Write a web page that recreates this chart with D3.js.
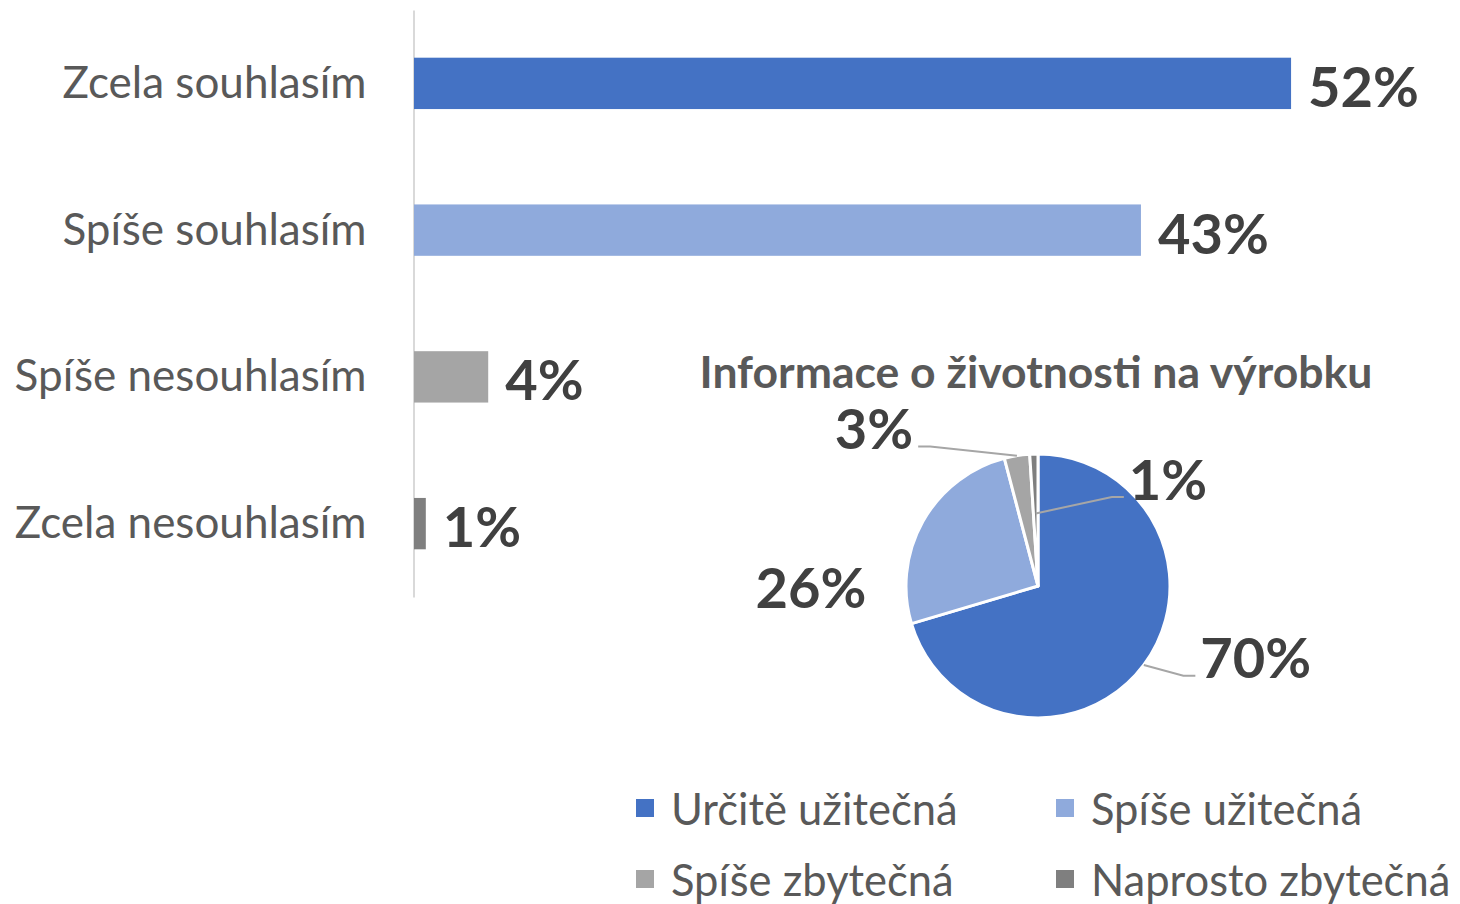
<!DOCTYPE html>
<html>
<head>
<meta charset="utf-8">
<script src="https://cdn.jsdelivr.net/npm/d3@7"></script>
<style>
  html, body { margin: 0; padding: 0; background: #fff; }
  svg { display: block; font-family: Lato, "Open Sans", sans-serif; }
</style>
</head>
<body>
<svg id="chart" width="1460" height="904"></svg>
<script>
// ---------- DATA ----------
const barCategories = ["Zcela souhlasím", "Spíše souhlasím", "Spíše nesouhlasím", "Zcela nesouhlasím"];
const barValues = [0.520, 0.431, 0.044, 0.007];
const barColors = ["#4472C4", "#8FAADC", "#A5A5A5", "#7F7F7F"];

const pieTitle = "Informace o životnosti na výrobku";
const pieCategories = ["Určitě užitečná", "Spíše užitečná", "Spíše zbytečná", "Naprosto zbytečná"];
const pieValues = [0.704, 0.255, 0.031, 0.010];
const pieColors = ["#4472C4", "#8FAADC", "#A5A5A5", "#7F7F7F"];

// ---------- SETUP ----------
const svg = d3.select("#chart");
const fmt = d3.format(".0%");
const labelColor = "#404040";
const textColor = "#595959";

// ---------- BAR CHART ----------
const y = d3.scaleBand()
  .domain(barCategories)
  .range([10, 597])
  .paddingInner(0.65)
  .paddingOuter(0.325);

const x = d3.scaleLinear().domain([0, 0.6]).range([414, 1426]);

const yAxis = d3.axisLeft(y).tickSize(0).tickSizeOuter(0).tickPadding(47);
const gAxis = svg.append("g")
  .attr("transform", `translate(${x(0) - 0.5},0)`)
  .call(yAxis);
gAxis.select(".domain").attr("stroke", "#D9D9D9").attr("stroke-width", 2);
gAxis.selectAll(".tick text")
  .attr("fill", textColor)
  .style("font-family", "Lato, sans-serif")
  .style("font-size", "44px")
  .attr("dy", "0.33em");

const barData = barCategories.map((c, i) => ({ c, v: barValues[i], color: barColors[i] }));

svg.append("g").selectAll("rect")
  .data(barData)
  .join("rect")
  .attr("x", x(0))
  .attr("y", d => y(d.c))
  .attr("width", d => x(d.v) - x(0))
  .attr("height", y.bandwidth())
  .attr("fill", d => d.color);

svg.append("g").selectAll("text")
  .data(barData)
  .join("text")
  .attr("x", d => x(d.v) + 17)
  .attr("y", d => y(d.c) + y.bandwidth() / 2 + 2)
  .attr("dominant-baseline", "central")
  .attr("fill", labelColor)
  .style("font-weight", 700)
  .style("font-size", "56px")
  .text(d => fmt(d.v));

// ---------- PIE CHART ----------
const cx = 1038, cy = 586, R = 132;
const pieData = pieCategories.map((c, i) => ({ c, v: pieValues[i], color: pieColors[i] }));
const pie = d3.pie().value(d => d.v).sort(null);
const arcs = pie(pieData);
const arc = d3.arc().innerRadius(0).outerRadius(R);

svg.append("text")
  .attr("x", cx - 2)
  .attr("y", 388)
  .attr("text-anchor", "middle")
  .attr("fill", textColor)
  .style("font-weight", 700)
  .style("font-size", "44.5px")
  .text(pieTitle);

const gPie = svg.append("g").attr("transform", `translate(${cx},${cy})`);
gPie.selectAll("path")
  .data(arcs)
  .join("path")
  .attr("d", arc)
  .attr("fill", d => d.data.color)
  .attr("stroke", "#fff")
  .attr("stroke-width", 3)
  .attr("stroke-linejoin", "round");

// label layout (polar: angle in degrees clockwise from top, radius), leader anchor radius factor
const labelLayout = [
  { ang: 108, rad: 229, lead: true, anchorR: 1.0 },
  { ang: 270, rad: 227, lead: false, anchorR: 1.0 },
  { ang: 314, rad: 228, lead: true, anchorR: 1.0 },
  { ang: 50.3, rad: 169, lead: true, anchorR: 0.55 }
];
const polar = (deg, r) => {
  const a = deg * Math.PI / 180;
  return [Math.sin(a) * r, -Math.cos(a) * r];
};

arcs.forEach((d, i) => {
  const L = labelLayout[i];
  const [lx, ly] = polar(L.ang, L.rad);
  const t = gPie.append("text")
    .attr("x", lx)
    .attr("y", ly)
    .attr("text-anchor", "middle")
    .attr("dominant-baseline", "central")
    .attr("fill", labelColor)
    .style("font-weight", 700)
    .style("font-size", "56px")
    .text(fmt(d.data.v));
  if (L.lead) {
    const bb = t.node().getBBox();
    const mid = (d.startAngle + d.endAngle) / 2;
    const start = [Math.sin(mid) * R * L.anchorR, -Math.cos(mid) * R * L.anchorR];
    const side = lx > 0 ? 1 : -1;
    const edge = side > 0 ? bb.x - 5 : bb.x + bb.width + 5;
    const baseY = ly + 19;
    const pts = [start, [edge - side * 12, baseY], [edge, baseY]];
    gPie.append("path")
      .attr("d", d3.line()(pts))
      .attr("fill", "none")
      .attr("stroke", "#A6A6A6")
      .attr("stroke-width", 2);
  }
});

// ---------- LEGEND ----------
const legendCols = [636, 1056];
const legendRows = [808, 879];
const gLeg = svg.append("g");
pieData.forEach((d, i) => {
  const lx = legendCols[i % 2];
  const ly = legendRows[Math.floor(i / 2)];
  gLeg.append("rect")
    .attr("x", lx).attr("y", ly - 9)
    .attr("width", 18).attr("height", 18)
    .attr("fill", d.color);
  gLeg.append("text")
    .attr("x", lx + 35)
    .attr("y", ly)
    .attr("dominant-baseline", "central")
    .attr("fill", textColor)
    .style("font-size", "43.5px")
    .text(d.c);
});
</script>
</body>
</html>
